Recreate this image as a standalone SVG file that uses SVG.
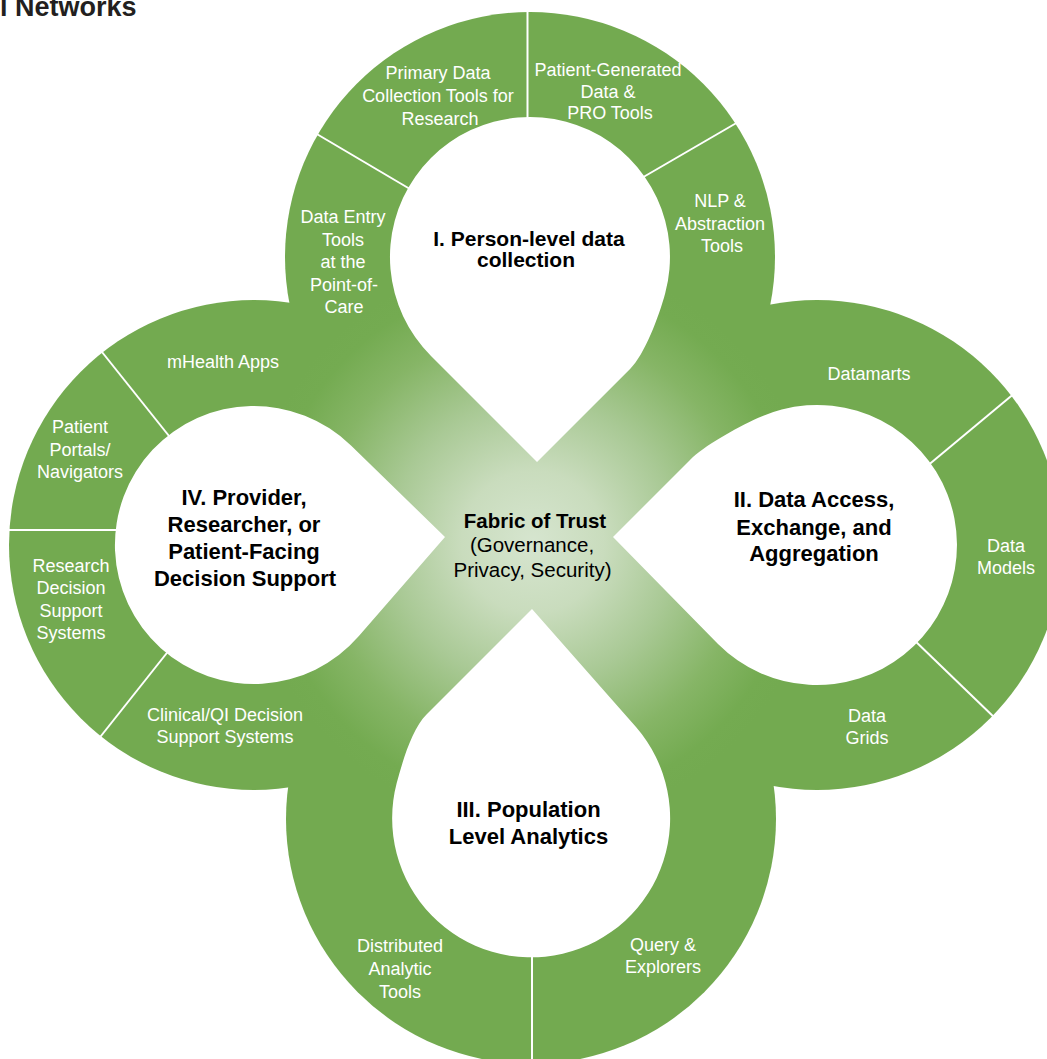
<svg xmlns="http://www.w3.org/2000/svg" width="1047" height="1059" viewBox="0 0 1047 1059">
<defs>
<radialGradient id="fabric" gradientUnits="userSpaceOnUse" cx="533" cy="542" r="285">
<stop offset="0" stop-color="#d6e5cf"/>
<stop offset="0.25" stop-color="#c9dcbd"/>
<stop offset="0.5" stop-color="#a9c995"/>
<stop offset="0.75" stop-color="#86b566"/>
<stop offset="0.92" stop-color="#74ab51"/>
<stop offset="1" stop-color="#73aa50"/>
</radialGradient>
<style>
.wl{font-family:"Liberation Sans",Arial,sans-serif;font-size:18px;fill:#ffffff;text-anchor:middle}
.bl{font-family:"Liberation Sans",Arial,sans-serif;font-weight:bold;font-size:22px;fill:#000000;text-anchor:middle}
.div{stroke:#ffffff;stroke-width:2;fill:none}
.hole{fill:#ffffff}
.ring{fill:url(#fabric)}
</style>
</defs>
<rect x="0" y="0" width="1047" height="1059" fill="#ffffff"/>
<text x="0" y="16" font-family="Liberation Sans,Arial,sans-serif" font-weight="bold" font-size="27" fill="#231f20">l Networks</text>

<g id="fabric-shape">
<circle class="ring" cx="530" cy="257" r="245"/>
<circle class="ring" cx="817" cy="545" r="245"/>
<circle class="ring" cx="531" cy="819" r="245"/>
<circle class="ring" cx="254" cy="545" r="245"/>
<polygon class="ring" points="530,257 817,545 531,819 254,545"/>
</g>

<g id="node-person-level">
<path class="hole" d="M537,462 L431,356 A140,140 0 1 1 665.2,293.2 C658.7,317.3 644.4,354.6 630.3,368.7 Z"/>
<text class="bl" style="font-size:21px" x="529" y="246">I. Person-level data</text>
<text class="bl" style="font-size:21px" x="526" y="267">collection</text>
</g>
<g id="node-data-access">
<path class="hole" d="M613,537 L718,644 A140,140 0 1 0 757.8,418.1 C735.1,428.7 704.1,445.9 690,460 Z"/>
<text class="bl" x="814" y="507">II. Data Access,</text>
<text class="bl" x="814" y="535">Exchange, and</text>
<text class="bl" x="814" y="561">Aggregation</text>
</g>
<g id="node-population">
<path class="hole" d="M532,609 L426.5,714.5 C412.4,728.6 403.2,758.9 396.7,783 A139,139 0 1 0 636,727.1 Z"/>
<text class="bl" x="528.5" y="817">III. Population</text>
<text class="bl" x="528.5" y="844">Level Analytics</text>
</g>
<g id="node-decision-support">
<path class="hole" d="M445,537 L351,445.5 A139,139 0 1 0 358.9,636.1 Z"/>
<text class="bl" x="244" y="505">IV. Provider,</text>
<text class="bl" x="244" y="532">Researcher, or</text>
<text class="bl" x="244" y="559">Patient-Facing</text>
<text class="bl" x="245" y="586">Decision Support</text>
</g>
<g id="node-fabric-of-trust">
<text class="bl" style="font-size:20.5px" x="535" y="528">Fabric of Trust</text>
<text class="bl" style="font-size:20.5px;font-weight:normal" x="532" y="552">(Governance,</text>
<text class="bl" style="font-size:20.5px;font-weight:normal" x="532.5" y="577">Privacy, Security)</text>
</g>

<g id="connectors">
<line class="div" x1="527.5" y1="4" x2="527.5" y2="125"/>
<line class="div" x1="310" y1="130" x2="415" y2="192"/>
<line class="div" x1="640" y1="179" x2="745" y2="118"/>
<line class="div" x1="98" y1="347" x2="173" y2="441"/>
<line class="div" x1="4" y1="530" x2="120" y2="530"/>
<line class="div" x1="170" y1="649" x2="97" y2="741"/>
<line class="div" x1="1016" y1="392" x2="926" y2="467"/>
<line class="div" x1="911" y1="637" x2="998" y2="721"/>
<line class="div" x1="532" y1="950" x2="532" y2="1059"/>
</g>

<g id="segment-labels">
<text class="wl" x="438" y="79">Primary Data</text>
<text class="wl" x="438" y="102">Collection Tools for</text>
<text class="wl" x="440" y="125">Research</text>
<text class="wl" x="608" y="76">Patient-Generated</text>
<text class="wl" x="608" y="98">Data &amp;</text>
<text class="wl" x="610" y="119">PRO Tools</text>
<text class="wl" x="720" y="207">NLP &amp;</text>
<text class="wl" x="720" y="230">Abstraction</text>
<text class="wl" x="722" y="252">Tools</text>
<text class="wl" x="343" y="223">Data Entry</text>
<text class="wl" x="343" y="246">Tools</text>
<text class="wl" x="343" y="268">at the</text>
<text class="wl" x="344" y="291">Point-of-</text>
<text class="wl" x="344" y="313">Care</text>
<text class="wl" x="223" y="368">mHealth Apps</text>
<text class="wl" x="80" y="433">Patient</text>
<text class="wl" x="80" y="456">Portals/</text>
<text class="wl" x="80" y="478">Navigators</text>
<text class="wl" x="71" y="572">Research</text>
<text class="wl" x="71" y="594">Decision</text>
<text class="wl" x="71" y="617">Support</text>
<text class="wl" x="71" y="639">Systems</text>
<text class="wl" x="225" y="721">Clinical/QI Decision</text>
<text class="wl" x="225" y="743">Support Systems</text>
<text class="wl" x="869" y="380">Datamarts</text>
<text class="wl" x="1006" y="552">Data</text>
<text class="wl" x="1006" y="574">Models</text>
<text class="wl" x="867" y="722">Data</text>
<text class="wl" x="867" y="744">Grids</text>
<text class="wl" x="400" y="952">Distributed</text>
<text class="wl" x="400" y="975">Analytic</text>
<text class="wl" x="400" y="998">Tools</text>
<text class="wl" x="663" y="951">Query &amp;</text>
<text class="wl" x="663" y="973">Explorers</text>
</g>
</svg>
